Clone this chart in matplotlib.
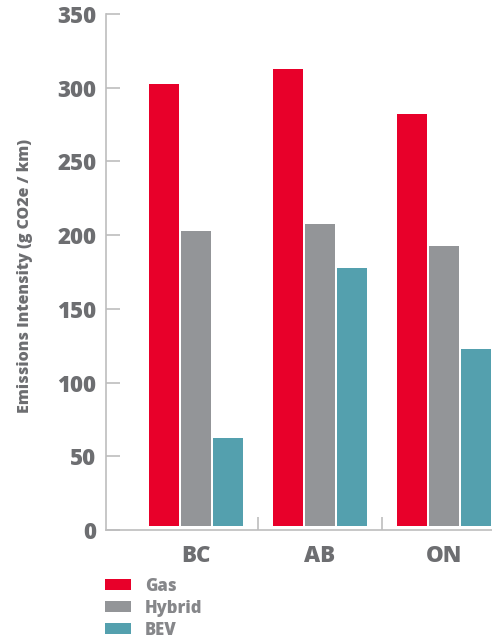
import numpy as np
import matplotlib.pyplot as plt

regions = ['BC', 'AB', 'ON']
gas = [300, 310, 280]
hybrid = [200, 205, 190]
bev = [60, 175, 120]
series = ['Gas', 'Hybrid', 'BEV']
colors = ['#E8002A', '#939598', '#54A0AE']
yticks = [0, 50, 100, 150, 200, 250, 300, 350]

txt = '#6D6E71'
axc = '#BDBDBE'
plt.rcParams['font.family'] = ['Open Sans', 'DejaVu Sans']
plt.rcParams['font.weight'] = 'heavy'

fig = plt.figure(figsize=(4.92, 6.41), dpi=100)
ax = fig.add_axes([106/492, 111/641, 1 - 106/492, 516/641])

x = np.arange(len(regions))
w = 0.242
step = 0.258
for i, (vals, name, c) in enumerate(zip([gas, hybrid, bev], series, colors)):
    ax.bar(x + (i - 1)*step, vals, width=w, bottom=2.5, color=c, label=name)

ax.set_xlim(-0.726, 2.387)
ax.set_ylim(0, 350)
ax.set_yticks(yticks)
ax.set_xticks(x)
ax.set_xticklabels(regions)
ax.set_xticks([0.5, 1.5], minor=True)

for s in ['top', 'right']:
    ax.spines[s].set_visible(False)
for s in ['left', 'bottom']:
    ax.spines[s].set_color(axc)
    ax.spines[s].set_linewidth(1.2)

ax.tick_params(axis='y', direction='in', length=10, width=1.2, color=axc,
               labelsize=16, labelcolor=txt, pad=7)
ax.tick_params(axis='x', which='major', length=0, labelsize=16, labelcolor=txt, pad=10)
ax.tick_params(axis='x', which='minor', direction='in', length=9.5, width=1.2, color=axc)

ax.set_ylabel('Emissions Intensity (g CO2e / km)', fontsize=11.5, color=txt,
              fontweight='heavy')
ax.yaxis.set_label_coords(-0.19, 0.492)

leg = fig.legend(loc='upper left', bbox_to_anchor=(105/492, 0.099), frameon=False,
                 fontsize=12, handlelength=1.56, handleheight=0.66,
                 handletextpad=0.84, labelspacing=0.3, borderpad=0, borderaxespad=0)
for t in leg.get_texts():
    t.set_color('#86878A')

fig.savefig('out.png', dpi=100)
